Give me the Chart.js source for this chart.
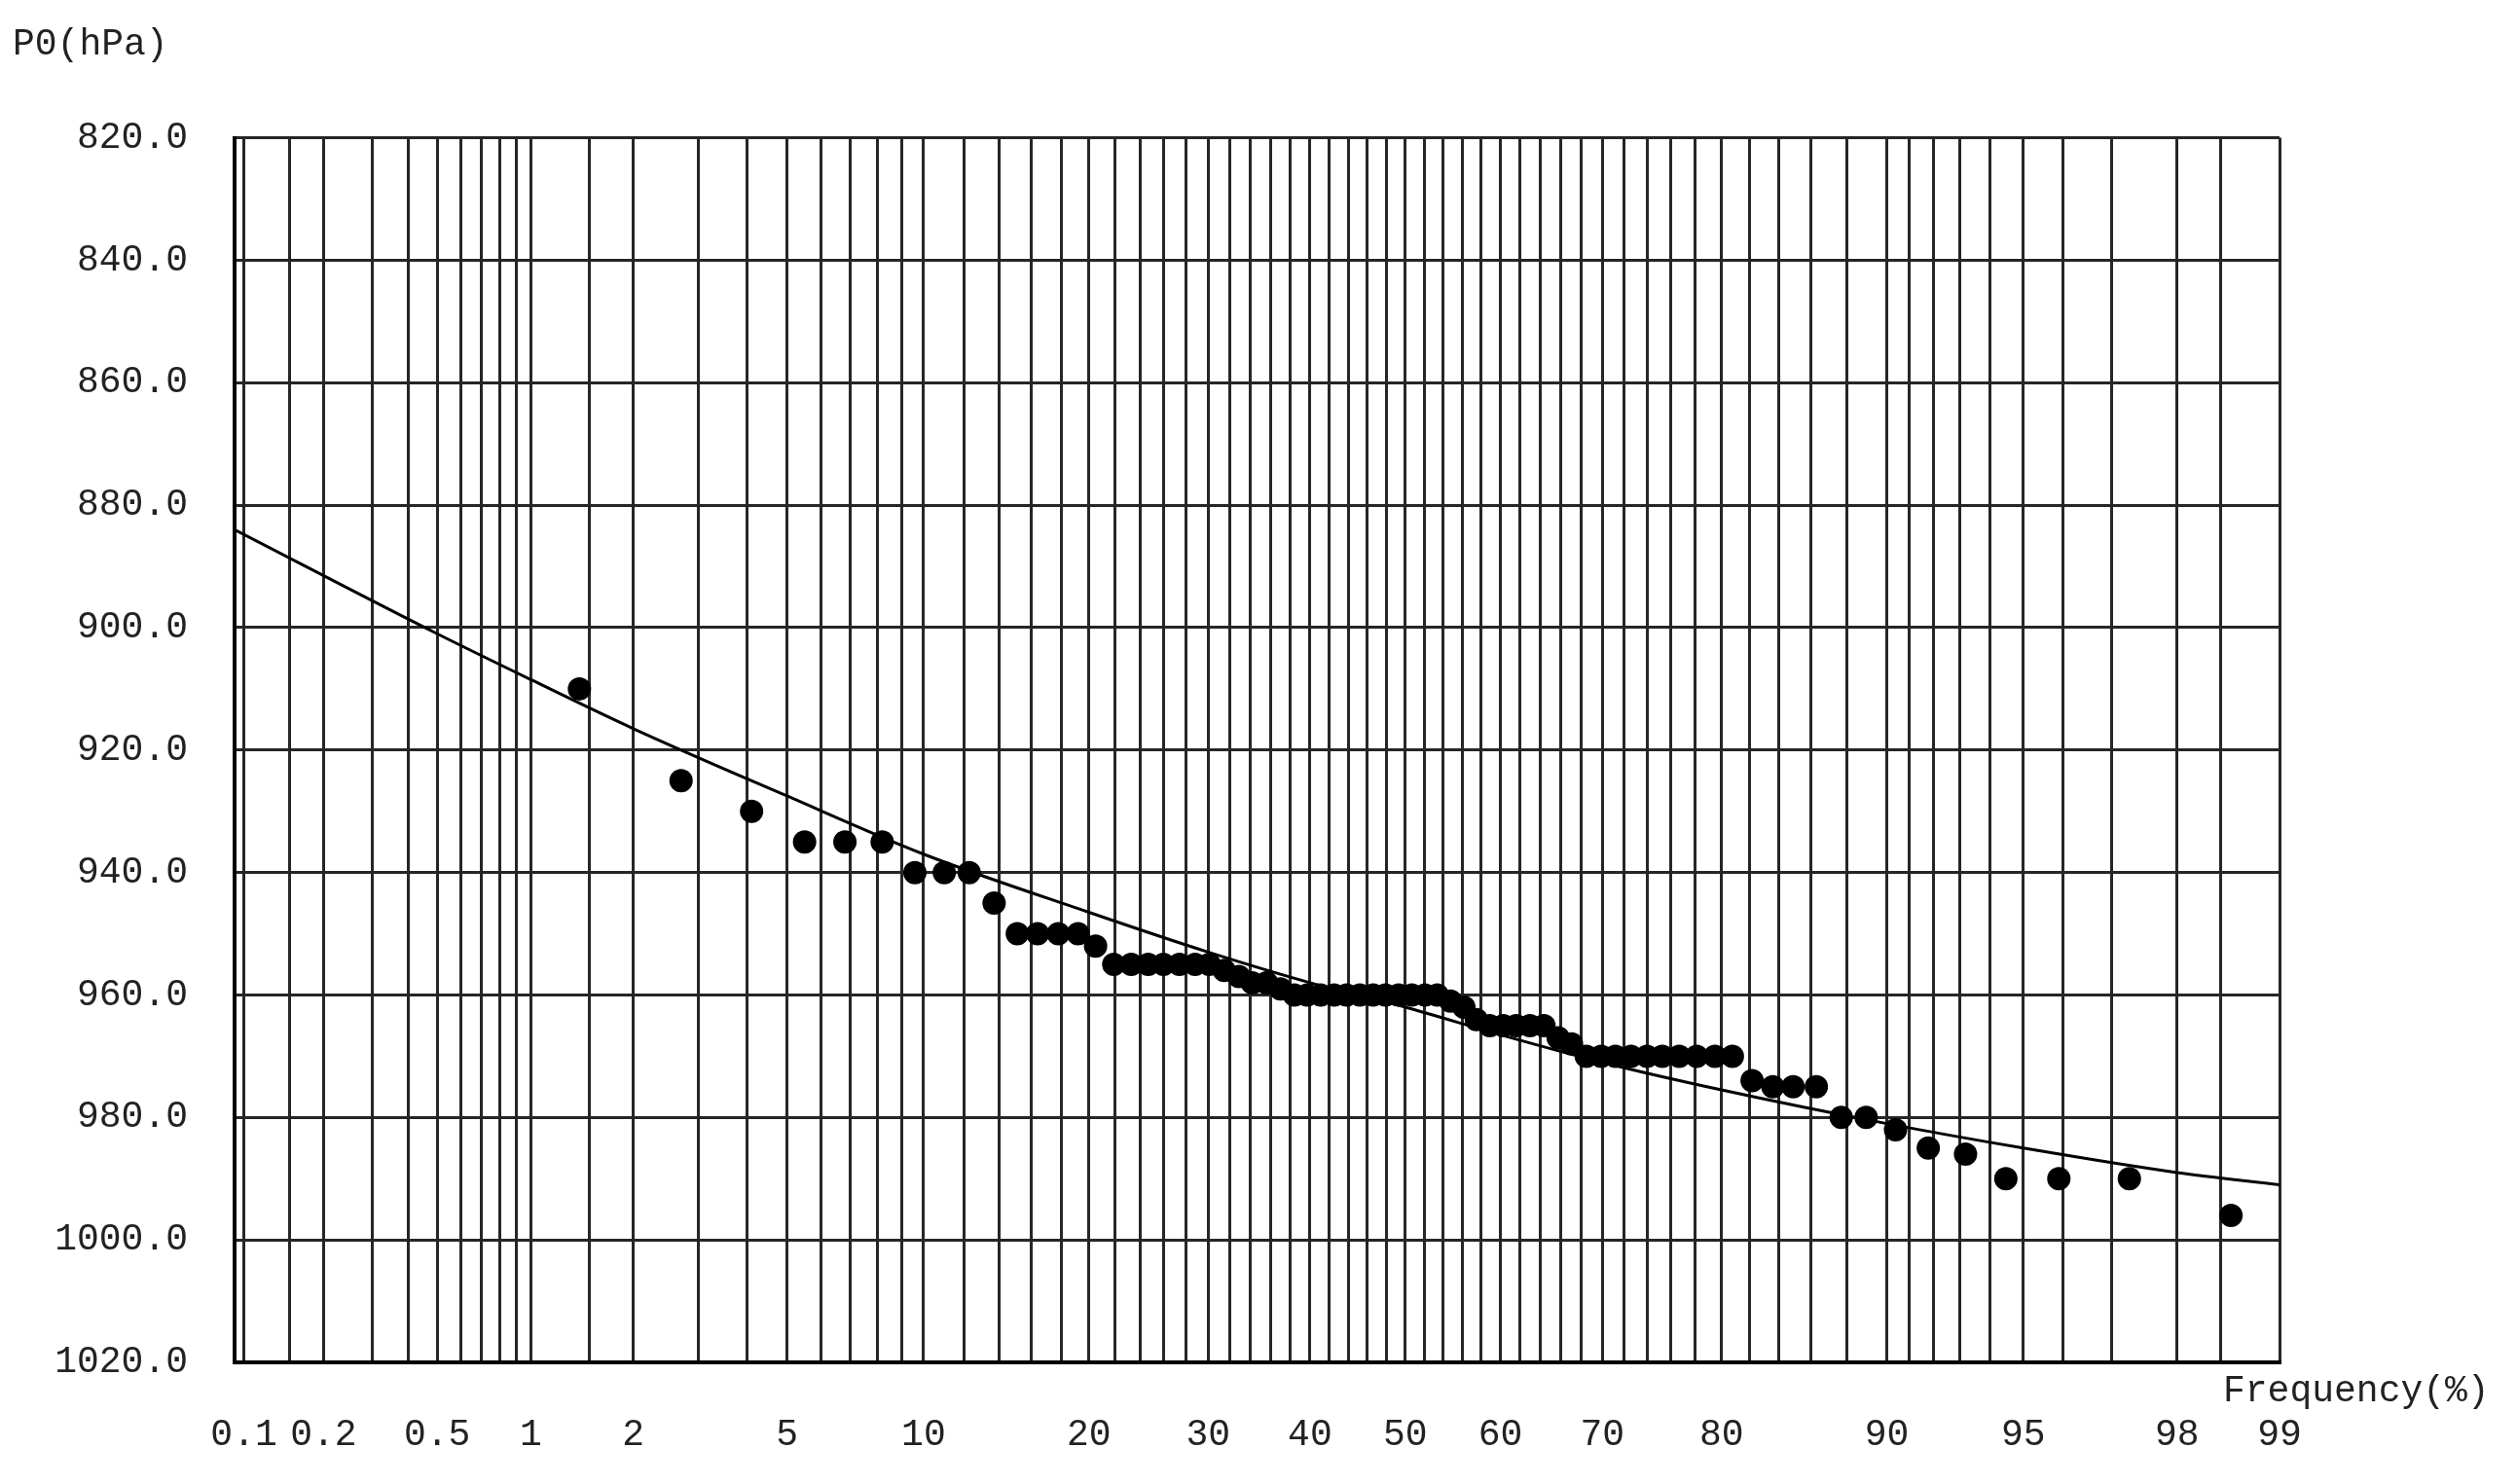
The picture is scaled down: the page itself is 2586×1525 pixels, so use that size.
<!DOCTYPE html>
<html>
<head>
<meta charset="utf-8">
<title>P0 frequency</title>
<script src="https://cdn.jsdelivr.net/npm/chart.js@4.4.1/dist/chart.umd.min.js"></script>
<style>
  html, body { margin: 0; padding: 0; background: #fff; }
  canvas { display: block; }
</style>
</head>
<body>
<canvas id="chart" width="2586" height="1525"></canvas>
<script>
// observed points: plotting frequency (%) and pressure (hPa)
const obsFreq = [1.4, 2.7, 4.1, 5.5, 6.8, 8.2, 9.6, 11.0, 12.3, 13.7,
  15.1, 16.4, 17.8, 19.2, 20.5, 21.9, 23.3, 24.7, 26.0, 27.4,
  28.8, 30.1, 31.5, 32.9, 34.2, 35.6, 37.0, 38.4, 39.7, 41.1,
  42.5, 43.8, 45.2, 46.6, 47.9, 49.3, 50.7, 52.1, 53.4, 54.8,
  56.2, 57.5, 58.9, 60.3, 61.6, 63.0, 64.4, 65.8, 67.1, 68.5,
  69.9, 71.2, 72.6, 74.0, 75.3, 76.7, 78.1, 79.5, 80.8, 82.2,
  83.6, 84.9, 86.3, 87.7, 89.0, 90.4, 91.8, 93.2, 94.5, 95.9,
  97.3, 98.6];
const obsP0 = [910, 925, 930, 935, 935, 935, 940, 940, 940, 945,
  950, 950, 950, 950, 952, 955, 955, 955, 955, 955,
  955, 955, 956, 957, 958, 958, 959, 960, 960, 960,
  960, 960, 960, 960, 960, 960, 960, 960, 960, 961,
  962, 964, 965, 965, 965, 965, 965, 967, 968, 970,
  970, 970, 970, 970, 970, 970, 970, 970, 970, 974,
  975, 975, 975, 980, 980, 982, 985, 986, 990, 990,
  990, 996];

// fitted curve
const curveFreq = [0.092, 0.5, 1, 2, 5, 10, 20, 30, 40, 50, 60, 70, 80, 90, 95, 98, 99];
const curveP0 = [884, 901, 908.5, 916.5, 927.5, 937, 946.5, 953, 958, 962, 966.5, 971, 975.5, 981, 985, 989, 991];

// probability paper grid and labels
const gridFreq = [0.1, 0.15, 0.2, 0.3, 0.4, 0.5, 0.6, 0.7, 0.8, 0.9, 1, 1.5, 2, 3, 4, 5, 6, 7, 8, 9,
  10, 12, 14, 16, 18, 20, 22, 24, 26, 28, 30, 32, 34, 36, 38, 40, 42, 44, 46, 48, 50,
  52, 54, 56, 58, 60, 62, 64, 66, 68, 70, 72, 74, 76, 78, 80, 82, 84, 86, 88, 90,
  91, 92, 93, 94, 95, 96, 97, 98, 98.5, 99];
const freqLabels = [0.1, 0.2, 0.5, 1, 2, 5, 10, 20, 30, 40, 50, 60, 70, 80, 90, 95, 98, 99];
const p0Ticks = [820, 840, 860, 880, 900, 920, 940, 960, 980, 1000, 1020];

const FONT = { family: 'Liberation Mono', size: 38 };
const INK = '#222';

// inverse of the normal distribution (Acklam), used as the axis transform
function probit(pct) {
  const p = pct / 100;
  const a = [-3.969683028665376e+01, 2.209460984245205e+02, -2.759285104469687e+02, 1.383577518672690e+02, -3.066479806614716e+01, 2.506628277459239e+00];
  const b = [-5.447609879822406e+01, 1.615858368580409e+02, -1.556989798598866e+02, 6.680131188771972e+01, -1.328068155288572e+01];
  const c = [-7.784894002430293e-03, -3.223964580411365e-01, -2.400758277161838e+00, -2.549732539343734e+00, 4.374664141464968e+00, 2.938163982698783e+00];
  const d = [7.784695709041462e-03, 3.224671290700398e-01, 2.445134137142996e+00, 3.754408661907416e+00];
  const lo = 0.02425;
  let q, r;
  if (p < lo) {
    q = Math.sqrt(-2 * Math.log(p));
    return (((((c[0]*q+c[1])*q+c[2])*q+c[3])*q+c[4])*q+c[5]) / ((((d[0]*q+d[1])*q+d[2])*q+d[3])*q+1);
  }
  if (p > 1 - lo) {
    q = Math.sqrt(-2 * Math.log(1 - p));
    return -(((((c[0]*q+c[1])*q+c[2])*q+c[3])*q+c[4])*q+c[5]) / ((((d[0]*q+d[1])*q+d[2])*q+d[3])*q+1);
  }
  q = p - 0.5; r = q * q;
  return (((((a[0]*r+a[1])*r+a[2])*r+a[3])*r+a[4])*r+a[5])*q / (((((b[0]*r+b[1])*r+b[2])*r+b[3])*r+b[4])*r+1);
}

// normal probability scale
class ProbabilityScale extends Chart.LinearScale {
  static id = 'probability';
  static defaults = {};
  determineDataLimits() {
    this.min = this.options.min;
    this.max = this.options.max;
  }
  buildTicks() {
    return gridFreq.map(v => ({ value: v }));
  }
  getPixelForValue(value) {
    const a = probit(this.min), b = probit(this.max);
    return this.getPixelForDecimal((probit(value) - a) / (b - a));
  }
}
Chart.register(ProbabilityScale);

// x axis caption sits right of the plot, between axis and labels
const freqCaption = {
  id: 'freqCaption',
  afterDraw(chart) {
    const { ctx, chartArea } = chart;
    ctx.save();
    ctx.font = FONT.size + 'px "' + FONT.family + '"';
    ctx.fillStyle = INK;
    ctx.textAlign = 'left';
    ctx.textBaseline = 'middle';
    ctx.fillText('Frequency(%)', chartArea.right - 58, chartArea.bottom + 30);
    ctx.restore();
  }
};

new Chart(document.getElementById('chart'), {
  type: 'scatter',
  data: {
    datasets: [{
      label: 'P0',
      data: obsFreq.map((f, i) => ({ x: f, y: obsP0[i] })),
      pointRadius: 12,
      pointBackgroundColor: '#000',
      pointBorderWidth: 0
    }, {
      label: 'fit',
      data: curveFreq.map((f, i) => ({ x: f, y: curveP0[i] })),
      showLine: true,
      borderColor: '#000',
      borderWidth: 3,
      pointRadius: 0,
      cubicInterpolationMode: 'monotone'
    }]
  },
  options: {
    responsive: false,
    animation: false,
    devicePixelRatio: 1,
    events: [],
    layout: { padding: { left: 13, right: 244, top: 17, bottom: 0 } },
    scales: {
      x: {
        type: 'probability',
        min: 0.092,
        max: 99,
        afterFit: s => { s.height = 125; },
        border: { display: true, color: '#000', width: 4 },
        grid: { color: '#262626', lineWidth: 3, drawTicks: false },
        ticks: {
          autoSkip: false,
          maxRotation: 0,
          minRotation: 0,
          padding: 52,
          color: INK,
          font: FONT,
          callback: v => freqLabels.includes(v) ? String(v) : ''
        }
      },
      y: {
        reverse: true,
        min: 820,
        max: 1020,
        afterBuildTicks: s => { s.ticks = p0Ticks.map(v => ({ value: v })); },
        afterFit: s => { s.width = 228; },
        border: { display: true, color: '#000', width: 4 },
        grid: { color: '#262626', lineWidth: 3, drawTicks: false },
        ticks: {
          padding: 48,
          color: INK,
          font: FONT,
          callback: v => v.toFixed(1)
        }
      }
    },
    plugins: {
      legend: { display: false },
      tooltip: { enabled: false },
      title: {
        display: true,
        text: 'P0(hPa)',
        align: 'start',
        color: INK,
        font: { family: FONT.family, size: 38, weight: 'normal' },
        padding: { top: 6, bottom: 73 }
      }
    }
  },
  plugins: [freqCaption]
});
</script>
</body>
</html>
